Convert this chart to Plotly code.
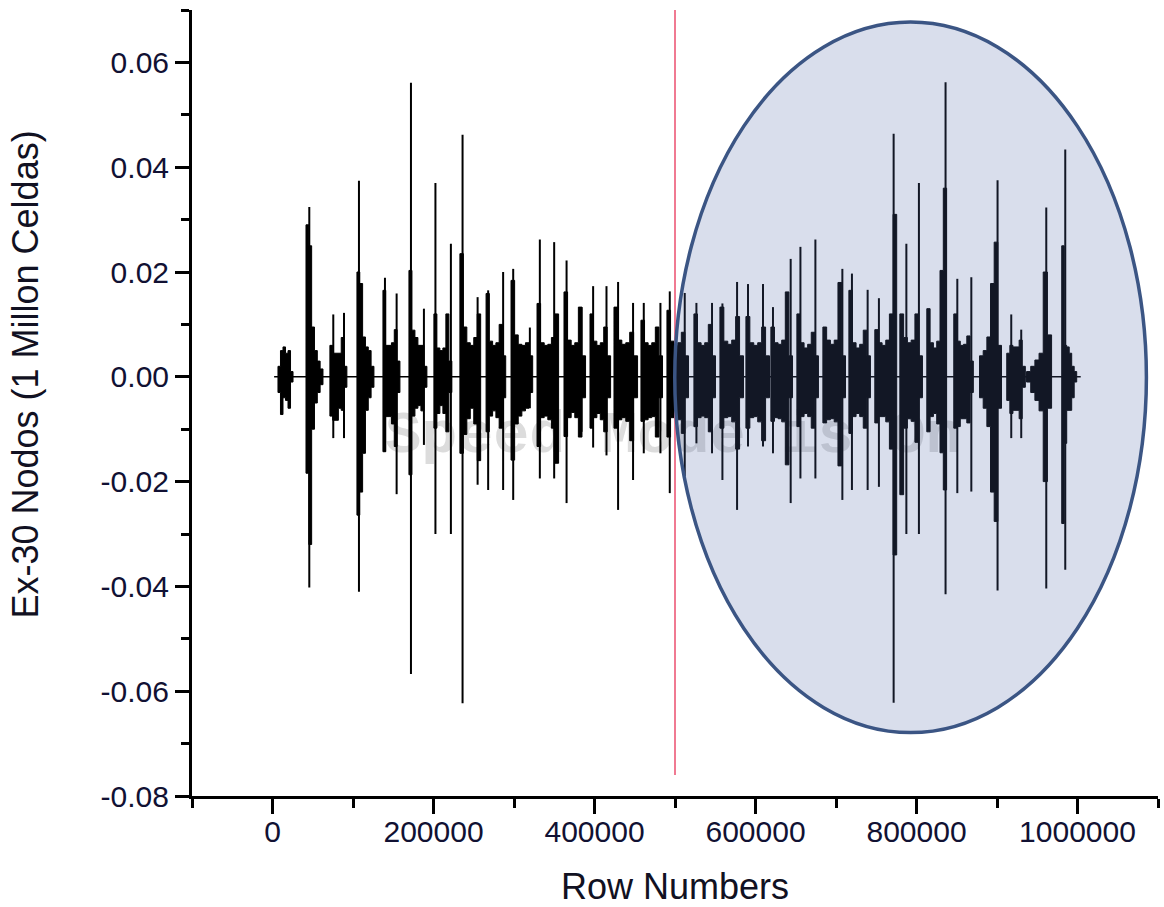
import plotly.graph_objects as go

# ---- signal record: 31 bursts along the row index -------------------------
record_first_row = 2000
record_last_row = 1004000

burst_start = [6800, 41600, 71300, 104900, 137200, 169500, 200500, 232800,
               265300, 296300, 328600, 362100, 394400, 424200, 457700, 490000,
               523500, 555800, 588100, 619100, 651400, 683700, 716000, 748200,
               779300, 812800, 846300, 878300, 912100, 936700, 980400]
burst_end = [25500, 62700, 92400, 126000, 158300, 191800, 222800, 258600,
             289700, 323200, 355400, 388900, 420000, 453500, 484500, 516800,
             550300, 585100, 617400, 646000, 678200, 711800, 742800, 775400,
             807400, 837400, 870600, 905600, 935200, 967800, 999000]

# dense body of each burst: upper / lower envelope in six steps
body_hi = [
    [0.002, 0.005, 0.0057, 0.0045, 0.005, 0.001],
    [0.029, 0.025, 0.0095, 0.005, 0.003, 0.0015],
    [0.006, 0.0045, 0.0045, 0.0045, 0.0075, 0.002],
    [0.020, 0.0178, 0.0076, 0.0057, 0.005, 0.002],
    [0.0165, 0.006, 0.006, 0.0065, 0.009, 0.003],
    [0.0203, 0.0089, 0.0075, 0.006, 0.006, 0.002],
    [0.012, 0.0055, 0.005, 0.0055, 0.012, 0.003],
    [0.0235, 0.0095, 0.0065, 0.006, 0.0075, 0.012],
    [0.0159, 0.0068, 0.006, 0.0065, 0.010, 0.004],
    [0.0184, 0.008, 0.0062, 0.006, 0.0065, 0.004],
    [0.014, 0.0065, 0.006, 0.0062, 0.0075, 0.012],
    [0.0162, 0.007, 0.006, 0.0065, 0.0133, 0.004],
    [0.012, 0.0068, 0.006, 0.0065, 0.0095, 0.004],
    [0.0133, 0.007, 0.0062, 0.0065, 0.0085, 0.004],
    [0.0108, 0.0065, 0.006, 0.0065, 0.0095, 0.004],
    [0.0127, 0.0068, 0.006, 0.0065, 0.0085, 0.004],
    [0.012, 0.0065, 0.006, 0.0065, 0.010, 0.004],
    [0.0133, 0.0068, 0.0062, 0.007, 0.0115, 0.004],
    [0.0115, 0.0065, 0.006, 0.0065, 0.0095, 0.004],
    [0.0095, 0.0065, 0.0062, 0.007, 0.0162, 0.004],
    [0.012, 0.0065, 0.0055, 0.0062, 0.0085, 0.004],
    [0.0095, 0.007, 0.0062, 0.007, 0.018, 0.004],
    [0.0165, 0.0065, 0.0055, 0.0062, 0.0089, 0.004],
    [0.009, 0.0065, 0.006, 0.007, 0.012, 0.031],
    [0.012, 0.0075, 0.0065, 0.007, 0.012, 0.004],
    [0.013, 0.0065, 0.0055, 0.0068, 0.0203, 0.036],
    [0.012, 0.0068, 0.006, 0.0062, 0.0078, 0.003],
    [0.004, 0.005, 0.0076, 0.0178, 0.0257, 0.006],
    [0.0045, 0.006, 0.0057, 0.0057, 0.007, 0.002],
    [0.001, 0.002, 0.0032, 0.0045, 0.020, 0.008],
    [0.025, 0.006, 0.0057, 0.0045, 0.002, 0.001],
]
body_lo = [
    [-0.003, -0.0072, -0.004, -0.0045, -0.006, -0.001],
    [-0.0184, -0.032, -0.010, -0.005, -0.003, -0.0015],
    [-0.0075, -0.0083, -0.0083, -0.006, -0.0064, -0.002],
    [-0.0264, -0.022, -0.0146, -0.0064, -0.004, -0.002],
    [-0.0143, -0.0076, -0.0076, -0.009, -0.0133, -0.003],
    [-0.0187, -0.0075, -0.006, -0.0055, -0.0065, -0.002],
    [-0.0098, -0.007, -0.0055, -0.007, -0.0105, -0.003],
    [-0.0146, -0.011, -0.008, -0.006, -0.009, -0.016],
    [-0.0105, -0.0075, -0.0065, -0.0078, -0.0098, -0.004],
    [-0.0159, -0.009, -0.0075, -0.0065, -0.006, -0.003],
    [-0.0133, -0.0078, -0.0075, -0.0082, -0.0098, -0.0165],
    [-0.0114, -0.0078, -0.0068, -0.0078, -0.0115, -0.004],
    [-0.0098, -0.0078, -0.007, -0.0082, -0.0105, -0.004],
    [-0.0098, -0.0082, -0.0078, -0.0085, -0.0122, -0.004],
    [-0.0085, -0.0082, -0.0078, -0.0076, -0.0115, -0.004],
    [-0.0115, -0.0078, -0.0075, -0.0082, -0.0108, -0.004],
    [-0.0095, -0.0078, -0.0075, -0.0078, -0.0105, -0.004],
    [-0.0098, -0.0078, -0.0076, -0.0086, -0.0138, -0.004],
    [-0.0098, -0.0078, -0.0076, -0.0086, -0.0122, -0.004],
    [-0.0085, -0.0078, -0.008, -0.0086, -0.0168, -0.004],
    [-0.0095, -0.0076, -0.007, -0.0076, -0.0098, -0.004],
    [-0.0088, -0.0082, -0.008, -0.0086, -0.017, -0.004],
    [-0.0108, -0.0076, -0.007, -0.0076, -0.0098, -0.004],
    [-0.0088, -0.0076, -0.0076, -0.0086, -0.0138, -0.034],
    [-0.0225, -0.0098, -0.008, -0.0085, -0.0125, -0.004],
    [-0.0105, -0.0076, -0.007, -0.009, -0.0145, -0.0216],
    [-0.0098, -0.0095, -0.008, -0.008, -0.0088, -0.003],
    [-0.004, -0.006, -0.0095, -0.022, -0.0276, -0.006],
    [-0.0045, -0.007, -0.0064, -0.0064, -0.008, -0.002],
    [-0.001, -0.003, -0.0045, -0.0065, -0.020, -0.006],
    [-0.028, -0.0127, -0.0064, -0.0064, -0.004, -0.001],
]

# isolated needle peaks inside the bursts
spike_row = [45700, 75500, 88800, 107400, 139700, 154200, 172000, 188100,
             202400, 221600, 236100, 254800, 267900, 286500, 299000, 319700,
             332100, 349900, 365300, 383900, 398300, 414900, 429300, 447900,
             461200, 481900, 493500, 512100, 526600, 546000, 558900, 577100,
             590700, 609300, 621700, 643700, 655800, 674400, 707900, 719800,
             739300, 753300, 771600, 787400, 803000, 836100, 850700, 868100,
             900700, 917700, 930100, 961200, 984800]
spike_hi = [0.0324, 0.0119, 0.0122, 0.0374, 0.0189, 0.0159, 0.0561, 0.013,
            0.037, 0.0254, 0.0462, 0.0152, 0.0165, 0.020, 0.0206, 0.0094,
            0.0262, 0.0257, 0.0222, 0.0133, 0.0173, 0.0173, 0.0181, 0.0141,
            0.0141, 0.0141, 0.0163, 0.016, 0.0141, 0.0141, 0.014, 0.0181,
            0.0177, 0.0177, 0.0133, 0.0225, 0.0248, 0.0262, 0.0206, 0.0197,
            0.0166, 0.015, 0.0464, 0.0254, 0.037, 0.0562, 0.0187, 0.019,
            0.0375, 0.0119, 0.009, 0.0323, 0.0434]
spike_lo = [-0.0402, -0.0117, -0.0117, -0.041, -0.0143, -0.0224, -0.0567, -0.013,
            -0.030, -0.030, -0.0623, -0.0206, -0.0216, -0.0216, -0.0235, -0.006,
            -0.0194, -0.0194, -0.0241, -0.0105, -0.0135, -0.015, -0.0254, -0.0197,
            -0.0146, -0.0146, -0.0222, -0.019, -0.0127, -0.0146, -0.0197, -0.0254,
            -0.0133, -0.0133, -0.0146, -0.0241, -0.0194, -0.0194, -0.0235, -0.0216,
            -0.0216, -0.021, -0.0622, -0.030, -0.030, -0.0415, -0.0222, -0.0219,
            -0.0408, -0.0117, -0.0117, -0.0404, -0.0368]

# axis ticks
x_tick_vals = [0, 200000, 400000, 600000, 800000, 1000000]
x_tick_text = ["0", "200000", "400000", "600000", "800000", "1000000"]
y_tick_vals = [-0.08, -0.06, -0.04, -0.02, 0.00, 0.02, 0.04, 0.06]
y_tick_text = ["-0.08", "-0.06", "-0.04", "-0.02", "0.00", "0.02", "0.04", "0.06"]

# markers drawn over the plot
split_row = 500000
split_y_range = [-0.076, 0.07]
region_rows = [499700, 1085600]
region_vals = [-0.0679, 0.0677]
watermark = "Speed Mode is On"
watermark_pos = (498000, -0.0115)

# ---- build geometry ---------------------------------------------------------
body_x, body_y = [], []
for s, e, hi, lo in zip(burst_start, burst_end, body_hi, body_lo):
    n = len(hi)
    edges = [s + (e - s) * k / n for k in range(n + 1)]
    xs, ys = [], []
    for k in range(n):
        xs += [edges[k], edges[k + 1]]
        ys += [hi[k], hi[k]]
    for k in reversed(range(n)):
        xs += [edges[k + 1], edges[k]]
        ys += [lo[k], lo[k]]
    xs.append(xs[0])
    ys.append(ys[0])
    body_x += xs + [None]
    body_y += ys + [None]

spk_x, spk_y = [], []
for r, h, l in zip(spike_row, spike_hi, spike_lo):
    spk_x += [r, r, None]
    spk_y += [l, h, None]

fig = go.Figure()

fig.add_trace(go.Scatter(
    x=[watermark_pos[0]], y=[watermark_pos[1]], mode="text", text=[watermark],
    textfont=dict(family="Liberation Mono, Courier New, monospace", size=60,
                  color="#dcdcdc", weight="bold"),
    textposition="middle center", hoverinfo="skip", showlegend=False))

fig.add_trace(go.Scatter(
    x=[record_first_row, record_last_row], y=[0, 0], mode="lines",
    line=dict(color="black", width=1.6), hoverinfo="skip", showlegend=False))

fig.add_trace(go.Scatter(
    x=body_x, y=body_y, mode="lines", fill="toself", fillcolor="black",
    line=dict(color="black", width=1), hoverinfo="skip", showlegend=False))

fig.add_trace(go.Scatter(
    x=spk_x, y=spk_y, mode="lines", line=dict(color="black", width=2),
    hoverinfo="skip", showlegend=False))

fig.add_shape(type="line", x0=split_row, x1=split_row,
              y0=split_y_range[0], y1=split_y_range[1],
              line=dict(color="#f07a92", width=2), layer="above")
fig.add_shape(type="circle", x0=region_rows[0], x1=region_rows[1],
              y0=region_vals[0], y1=region_vals[1],
              fillcolor="rgba(80,104,168,0.22)",
              line=dict(color="#3b5584", width=3.5), layer="above")

axis_font = dict(family="Arial, Liberation Sans, sans-serif", size=30, color="#111133")

fig.update_xaxes(
    range=[-100000, 1100000], tickmode="array", tickvals=x_tick_vals,
    ticktext=x_tick_text, ticks="outside", ticklen=15, tickwidth=2.5,
    tickcolor="black", tickfont=axis_font, ticklabelstandoff=-8,
    showline=True, linewidth=3,
    linecolor="black", showgrid=False, zeroline=False,
    minor=dict(tick0=-100000, dtick=100000, ticks="outside", ticklen=9,
               tickwidth=2.5, tickcolor="black", showgrid=False))
fig.update_yaxes(
    range=[-0.08, 0.07], tickmode="array", tickvals=y_tick_vals,
    ticktext=y_tick_text, ticks="outside", ticklen=14, tickwidth=2.5,
    tickcolor="black", tickfont=axis_font, showline=True, linewidth=3,
    linecolor="black", showgrid=False, zeroline=False,
    minor=dict(tick0=-0.08, dtick=0.01, ticks="outside", ticklen=8,
               tickwidth=2.5, tickcolor="black", showgrid=False))

title_font = dict(family="Arial, Liberation Sans, sans-serif", size=36, color="#111122")
fig.add_annotation(text="Row Numbers", xref="paper", yref="paper",
                   x=0.5, y=-0.115, yanchor="middle", showarrow=False,
                   font=title_font)
fig.add_annotation(text="Ex-30 Nodos (1 Millon Celdas)", xref="paper", yref="paper",
                   x=-0.172, y=0.536, xanchor="center", yanchor="middle",
                   textangle=-90, showarrow=False, font=title_font)

fig.update_layout(
    width=1164, height=907, plot_bgcolor="white", paper_bgcolor="white",
    margin=dict(l=192, r=6, t=10, b=111), showlegend=False)

fig.write_html("out.html")
